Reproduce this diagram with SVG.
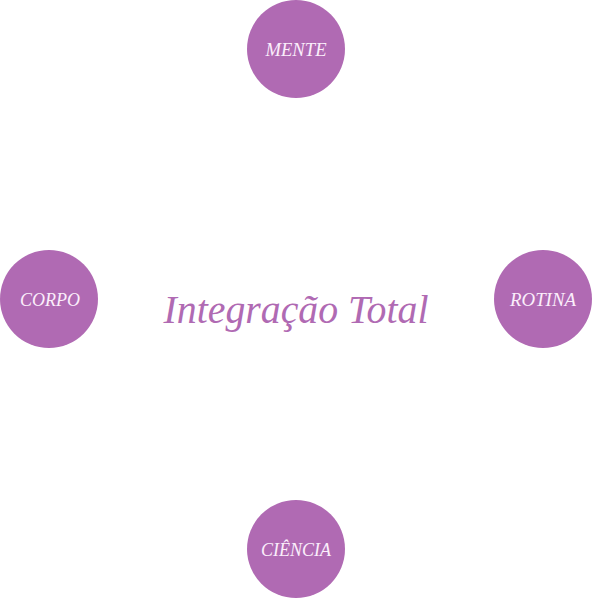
<svg xmlns="http://www.w3.org/2000/svg" width="592" height="599" viewBox="0 0 592 599">
<style>
.node{fill:#b06ab3}
.lbl{font-family:"Liberation Serif","DejaVu Serif",serif;font-style:italic;font-size:19px;fill:#fbeefb;text-anchor:middle}
.title{font-family:"Liberation Serif","DejaVu Serif",serif;font-style:italic;font-size:41px;fill:#b06ab3;text-anchor:middle}
</style>
<rect width="592" height="599" fill="#ffffff"/>
<g id="connectors"></g>
<g id="center"><text class="title" x="296" y="323" textLength="265" lengthAdjust="spacingAndGlyphs">Integração Total</text></g>
<g id="mente"><circle class="node" cx="296" cy="49" r="49"/><text class="lbl" x="296" y="56" textLength="61" lengthAdjust="spacingAndGlyphs">MENTE</text></g>
<g id="corpo"><circle class="node" cx="49" cy="299" r="49"/><text class="lbl" x="50" y="306" textLength="60" lengthAdjust="spacingAndGlyphs">CORPO</text></g>
<g id="rotina"><circle class="node" cx="543" cy="299" r="49"/><text class="lbl" x="543" y="306" textLength="66" lengthAdjust="spacingAndGlyphs">ROTINA</text></g>
<g id="ciencia"><circle class="node" cx="296" cy="549" r="49"/><text class="lbl" x="296" y="556" textLength="70" lengthAdjust="spacingAndGlyphs">CIÊNCIA</text></g>
</svg>
